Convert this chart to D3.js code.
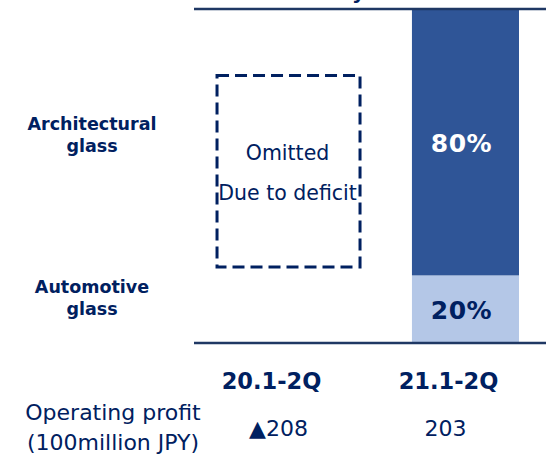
<!DOCTYPE html>
<html>
<head>
<meta charset="utf-8">
<script src="https://cdn.jsdelivr.net/npm/d3@7"></script>
<style>
  body { margin: 0; background: #fff; }
  svg { display: block; }
  text { font-family: 'DejaVu Sans', Verdana, sans-serif; }
</style>
</head>
<body>
<div></div>
<script>
const w = 546;
const h = 455;

const navy = '#002060';
const lineColor = '#1F3864';

// data
const categories = ['20.1-2Q', '21.1-2Q'];
const architectural = [null, 80];
const automotive = [null, 20];
const profit = ['▲208', '203'];
const omitted = [true, false];
const segments = ['Automotive glass', 'Architectural glass'];

const svg = d3
  .select('body')
  .select('div')
  .append('svg')
  .attr('width', w)
  .attr('height', h);

const x = d3
  .scaleBand()
  .domain(categories)
  .range([235, 519])
  .paddingInner(0.395)
  .paddingOuter(0);

const y = d3.scaleLinear().domain([0, 100]).range([342, 9]);

// cut-off title fragment at the very top
svg
  .append('text')
  .attr('x', 352)
  .attr('y', -1)
  .style('font-size', '20px')
  .style('font-weight', 'bold')
  .style('fill', navy)
  .text('y');

// stacked bars
const stack = categories.map((c, i) => ({
  cat: c,
  parts: [
    { key: 'auto', y0: 0, y1: automotive[i], color: '#B4C7E7', label: '#002060' },
    { key: 'arch', y0: automotive[i], y1: automotive[i] + architectural[i], color: '#2F5597', label: '#ffffff' }
  ]
}));

stack.forEach((d, i) => {
  if (omitted[i]) return;
  const g = svg.append('g').attr('class', 'bar-' + i);
  g.selectAll('rect')
    .data(d.parts)
    .enter()
    .append('rect')
    .attr('x', x(d.cat))
    .attr('width', x.bandwidth())
    .attr('y', (p) => y(p.y1))
    .attr('height', (p) => y(p.y0) - y(p.y1))
    .style('fill', (p) => p.color);

  g.selectAll('text')
    .data(d.parts)
    .enter()
    .append('text')
    .attr('x', x(d.cat) + x.bandwidth() / 2 - 4)
    .attr('y', (p) => (y(p.y0) + y(p.y1)) / 2 + 10)
    .attr('text-anchor', 'middle')
    .style('font-size', '25px')
    .style('font-weight', 'bold')
    .style('letter-spacing', '0.5px')
    .style('fill', (p) => p.label)
    .text((p) => p.y1 - p.y0 + '%');
});

// placeholder box for omitted column
categories.forEach((c, i) => {
  if (!omitted[i]) return;
  const cx = x(c) + x.bandwidth() / 2;
  const bw = 143;
  svg
    .append('rect')
    .attr('x', cx - bw / 2)
    .attr('y', y(80))
    .attr('width', bw)
    .attr('height', y(22.5) - y(80))
    .style('fill', 'none')
    .style('stroke', navy)
    .style('stroke-width', 3)
    .style('stroke-dasharray', '12,6');
  svg
    .append('text')
    .attr('x', cx - 1)
    .attr('y', 160)
    .attr('text-anchor', 'middle')
    .style('font-size', '20.5px')
    .style('fill', navy)
    .text('Omitted');
  svg
    .append('text')
    .attr('x', cx - 1)
    .attr('y', 200)
    .attr('text-anchor', 'middle')
    .style('font-size', '20.5px')
    .style('fill', navy)
    .text('Due to deficit');
});

// top and baseline rules
svg
  .append('line')
  .attr('x1', 194)
  .attr('x2', w)
  .attr('y1', y(100))
  .attr('y2', y(100))
  .style('stroke', lineColor)
  .style('stroke-width', 2.5);

svg
  .append('line')
  .attr('x1', 194)
  .attr('x2', w)
  .attr('y1', y(0) + 1)
  .attr('y2', y(0) + 1)
  .style('stroke', lineColor)
  .style('stroke-width', 2.5);

// segment labels on the left
const segLabels = svg
  .selectAll('text.seg')
  .data(segments)
  .enter()
  .append('text')
  .attr('class', 'seg')
  .attr('text-anchor', 'middle')
  .style('font-size', '17.5px')
  .style('font-weight', 'bold')
  .style('fill', navy);

segLabels
  .append('tspan')
  .attr('x', 92)
  .attr('y', (d) => (d === 'Architectural glass' ? 130 : 293))
  .text((d) => d.split(' ')[0]);
segLabels
  .append('tspan')
  .attr('x', 92)
  .attr('dy', 22)
  .text((d) => d.split(' ')[1]);

// category labels
svg
  .selectAll('text.cat')
  .data(categories)
  .enter()
  .append('text')
  .attr('class', 'cat')
  .attr('x', (d) => x(d) + x.bandwidth() / 2 - 17)
  .attr('y', 389)
  .attr('text-anchor', 'middle')
  .style('font-size', '22.5px')
  .style('font-weight', 'bold')
  .style('fill', navy)
  .text((d) => d);

// operating profit row
const op = svg
  .append('text')
  .attr('text-anchor', 'middle')
  .style('font-size', '22px')
  .style('fill', navy);
op.append('tspan').attr('x', 113).attr('y', 420).text('Operating profit');
op.append('tspan').attr('x', 113).attr('y', 450).text('(100million JPY)');

const profitShift = [-10, -20];
svg
  .selectAll('text.profit')
  .data(profit)
  .enter()
  .append('text')
  .attr('class', 'profit')
  .attr('x', (d, i) => x(categories[i]) + x.bandwidth() / 2 + profitShift[i])
  .attr('y', 436)
  .attr('text-anchor', 'middle')
  .style('font-size', '22px')
  .style('fill', navy)
  .text((d) => d);
</script>
</body>
</html>
